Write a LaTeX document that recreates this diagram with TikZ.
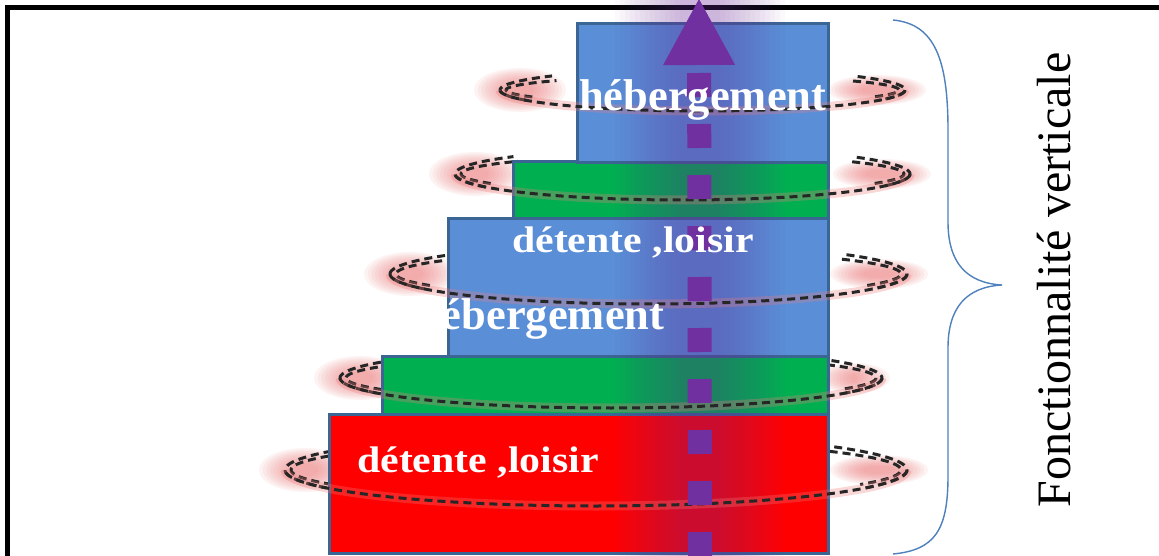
\documentclass[tikz,border=0pt]{standalone}
\usepackage{fontspec}
\setmainfont{Liberation Serif}
\newfontfamily\lblfont{Liberation Serif}[FakeStretch=1.13]
\usetikzlibrary{arrows.meta}
\definecolor{boxblue}{HTML}{5A8FD8}
\definecolor{boxgreen}{HTML}{00B050}
\definecolor{boxred}{HTML}{FF0000}
\definecolor{boxedge}{HTML}{3B6592}
\definecolor{arrowpurple}{HTML}{7030A0}
\definecolor{ringpink}{HTML}{EE7C7C}
\definecolor{bracecol}{HTML}{4F81BD}
\begin{document}
\begin{tikzpicture}[x=1pt,y=-1pt,
  floorbox/.style={draw=boxedge, line width=3pt, rectangle, inner sep=0pt},
  ringdash/.style={draw=black!85, line width=3pt, dash pattern=on 8pt off 5pt},
  ringglow/.style={draw=ringpink, line width=9pt, opacity=0.3},
  halo/.style={fill=ringpink, opacity=0.09},
  shaft/.style={draw=arrowpurple, line width=24pt, dash pattern=on 24pt off 27pt,
    -{Triangle[width=72pt,length=66pt,line width=0pt]}},
  haze/.style={fill=arrowpurple, opacity=0.028},
  lbl/.style={text=white, inner sep=0pt, anchor=base west},
  bigbold/.style={font=\bfseries\fontsize{44.5}{46}\selectfont},
  widebold/.style={font=\lblfont\bfseries\fontsize{37}{40}\selectfont},
  brace/.style={draw=bracecol, line width=1.4pt}]
\useasboundingbox (0,0) rectangle (1159,556);
\clip (0,0) rectangle (1159,556);
\fill[white] (0,0) rectangle (1159,556);

% outer frame
\draw[line width=5pt] (7.5,7.5) rectangle (1200,620);

% rings around the tower: soft pink ends and the short back parts of the loops
\foreach \cx/\cy/\rx/\ry/\rw in {702.5/90/202.5/21/45, 682.5/174/227.5/26/45,
    648.5/274/258.5/30/45, 611/378/271/30/32, 596/470/311/36/45} {
  \foreach \k in {0,...,9} {
    \fill[halo] ({\cx-\rx+20}, \cy) ellipse [x radius={(46-3.6*\k)*1pt}, y radius={(22-1.7*\k)*1pt}];
    \fill[halo] ({\cx+\rx-28}, \cy) ellipse [x radius={(\rw+4-3.6*\k)*1pt}, y radius={(15-1.2*\k)*1pt}];
  }
  \draw[ringdash] plot[domain=150:222, samples=40, smooth]
    ({\cx+\rx*cos(\x)}, {\cy+\ry*sin(\x)});
  \draw[ringdash] plot[domain=150:222, samples=40, smooth]
    ({\cx+(\rx-6)*cos(\x)}, {\cy+(\ry-7)*sin(\x)});
  \draw[ringdash] plot[domain=-40:30, samples=40, smooth]
    ({\cx+\rx*cos(\x)}, {\cy+\ry*sin(\x)});
  \draw[ringdash] plot[domain=-40:30, samples=40, smooth]
    ({\cx+(\rx-6)*cos(\x)}, {\cy+(\ry-7)*sin(\x)});
}

% the floors
\node[floorbox, fill=boxred,   minimum width=499pt, minimum height=139pt] (red)    at (578.5,483.5) {};
\node[floorbox, fill=boxgreen, minimum width=446pt, minimum height=58pt]  (green2) at (605,385) {};
\node[floorbox, fill=boxblue,  minimum width=380pt, minimum height=137pt] (blue2)  at (638,287.5) {};
\node[floorbox, fill=boxgreen, minimum width=315pt, minimum height=57pt]  (green1) at (670.5,190.5) {};
\node[floorbox, fill=boxblue,  minimum width=251pt, minimum height=139pt] (blue1)  at (702.5,93.5) {};

% purple glow along the axis
\foreach \w in {170,160,...,40}
  \fill[haze] ({700-\w/2}, 0) rectangle ({700+\w/2}, 556);

% front halves of the rings
\foreach \cx/\cy/\rx/\ry in {702.5/90/202.5/21, 682.5/174/227.5/26,
    648.5/274/258.5/30, 611/378/271/30, 596/470/311/36} {
  \draw[ringglow] plot[domain=0:180, samples=80, smooth]
    ({\cx+\rx*cos(\x)}, {\cy+\ry*sin(\x)});
  \draw[ringdash] plot[domain=0:180, samples=80, smooth]
    ({\cx+\rx*cos(\x)}, {\cy+\ry*sin(\x)});
}

% vertical arrow
\coordinate (foot) at (700,556);
\coordinate (tip) at (699,-1);
\draw[shaft] (foot) -- (tip);

% floor labels
\node[lbl, bigbold]  (t1) at (579,111) {hébergement};
\node[lbl, widebold] (t2) at (512,252) {détente ,loisir};
\node[lbl, bigbold]  (t3) at (417,329) {hébergement};
\node[lbl, widebold] (t4) at (357,472) {détente ,loisir};

% brace and its caption
\coordinate (btop) at (893,20);
\coordinate (bmid) at (1002,285);
\coordinate (bbot) at (893,554);
\draw[brace] (btop) .. controls (935,24) and (948,60) .. (948,130)
  -- (948,222) .. controls (948,262) and (966,283) .. (bmid)
  .. controls (966,287) and (948,308) .. (948,348)
  -- (948,476) .. controls (948,530) and (935,550) .. (bbot);
\node[rotate=90, anchor=base, inner sep=0pt, font=\fontsize{48}{50}\selectfont]
  (caption) at (1070,280) {Fonctionnalité verticale};
\end{tikzpicture}
\end{document}
